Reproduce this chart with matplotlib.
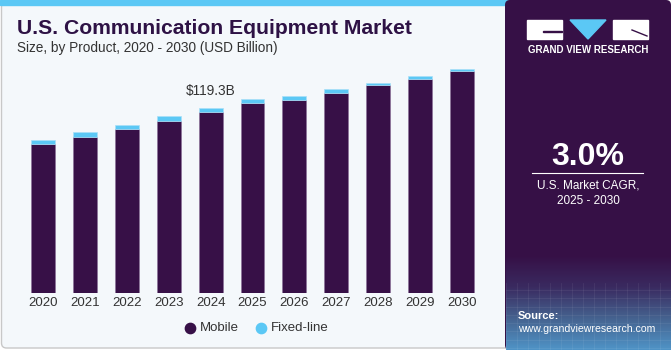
import numpy as np
import matplotlib.pyplot as plt
from matplotlib.patches import Rectangle, FancyBboxPatch, Polygon

# datos del grafico (USD Billion)
years = ["2020", "2021", "2022", "2023", "2024", "2025", "2026", "2027", "2028", "2029", "2030"]
mobile = [96.3, 101.0, 106.1, 111.1, 116.7, 122.7, 124.9, 129.2, 134.2, 138.2, 143.4]
fixed_line = [2.6, 3.0, 2.4, 3.2, 2.6, 2.4, 2.3, 2.4, 1.5, 2.0, 1.3]
label_year = "2024"
label_text = "$119.3B"

purple = "#371047"
blue = "#5bc8f5"
W, H = 671, 350

plt.rcParams['font.family'] = ['Liberation Sans', 'DejaVu Sans']
fig = plt.figure(figsize=(W / 100, H / 100), dpi=100)

# capa de fondo en coordenadas de pixel
bg = fig.add_axes([0, 0, 1, 1])
bg.axis("off")
bg.add_patch(Rectangle((0, 0), W, H, color="white", zorder=0))
bg.add_patch(FancyBboxPatch((1.5, 2), 520, 346, boxstyle="round,pad=0,rounding_size=5",
                            facecolor="#f4f8fb", edgecolor="#c8c8c8", lw=1, zorder=1))
bg.add_patch(Rectangle((0, 0), 510, 4.5, color=blue, zorder=2))
bg.add_patch(FancyBboxPatch((505, 0), 166, 350, boxstyle="round,pad=0,rounding_size=5",
                            facecolor="#361046", edgecolor="none", zorder=3))
# degradado inferior del panel derecho
grad = np.linspace(0, 1, 100)[:, None]
cmap = plt.matplotlib.colors.LinearSegmentedColormap.from_list(
    "g", ["#361046", "#3a2a60", "#45628f", "#4f93c6"])
bg.imshow(grad, extent=(506, 671, 350, 255), cmap=cmap, aspect="auto", zorder=4)
for yy in np.linspace(290, 348, 8):
    bg.plot([506, 671], [yy, yy], color="white", alpha=0.07, lw=0.6, zorder=5)
for xx in np.linspace(506, 671, 16):
    bg.plot([xx, xx], [283, 350], color="white", alpha=0.07, lw=0.6, zorder=5)
bg.set_xlim(0, W)
bg.set_ylim(H, 0)

# logo
bg.add_patch(Rectangle((527, 20), 35, 19, color="white", zorder=6))
bg.add_patch(Rectangle((543, 31), 19, 1.2, color="#361046", zorder=7))
bg.add_patch(Polygon([(570, 20), (606, 20), (588, 39)], color=blue, zorder=6))
bg.add_patch(Rectangle((613, 20), 35, 19, color="white", zorder=6))
bg.plot([632, 647], [30, 36], color="#361046", lw=1, zorder=7)
bg.text(588, 50, "GRAND VIEW RESEARCH", color="white", fontsize=7, fontweight="bold",
        ha="center", va="center", zorder=7)

bg.text(588, 157, "3.0%", color="white", fontsize=23, fontweight="bold", ha="center", va="center", zorder=7)
bg.plot([532, 643], [173, 173], color="white", lw=0.8, zorder=7)
bg.text(588, 186, "U.S. Market CAGR,", color="white", fontsize=8.5, ha="center", va="center", zorder=7)
bg.text(588, 201, "2025 - 2030", color="white", fontsize=8.5, ha="center", va="center", zorder=7)
bg.text(518, 316, "Source:", color="white", fontsize=8, fontweight="bold", ha="left", va="center", zorder=7)
bg.text(518, 329, "www.grandviewresearch.com", color="white", fontsize=7.6, ha="left", va="center", zorder=7)

# titulos
bg.text(17, 29, "U.S. Communication Equipment Market", color="#2e1245", fontsize=15.2,
        fontweight="bold", ha="left", va="center", zorder=7)
bg.text(17, 48, "Size, by Product, 2020 - 2030 (USD Billion)", color="#333333", fontsize=9.8,
        ha="left", va="center", zorder=7)

# grafico de barras
ax = fig.add_axes([22 / W, 1 - 293 / H, 461 / W, 232.2 / H])
ax.patch.set_alpha(0)
x = np.arange(len(years))
ax.bar(x, mobile, width=0.57, color=purple, edgecolor="#8b7399", linewidth=0.5)
ax.bar(x, fixed_line, bottom=mobile, width=0.57, color=blue, edgecolor="#a9dff7", linewidth=0.5)
ax.set_xlim(-0.5, len(years) - 0.5)
ax.set_ylim(0, 150)
ax.set_xticks(x)
ax.set_xticklabels(years, fontsize=9.5, color="#333333")
ax.tick_params(axis="x", length=0, pad=3)
ax.set_yticks([])
for s in ax.spines.values():
    s.set_visible(False)

i = years.index(label_year)
ax.text(i, mobile[i] + fixed_line[i] + 6.5, label_text, ha="center", va="bottom", fontsize=9.8, color="#333333")

# leyenda
bg.scatter([190], [328], s=55, color=purple, zorder=7)
bg.text(200, 328, "Mobile", fontsize=9.5, color="#333333", va="center", zorder=7)
bg.scatter([261], [328], s=55, color=blue, zorder=7)
bg.text(271, 328, "Fixed-line", fontsize=9.5, color="#333333", va="center", zorder=7)

fig.savefig("out.png", dpi=100)
